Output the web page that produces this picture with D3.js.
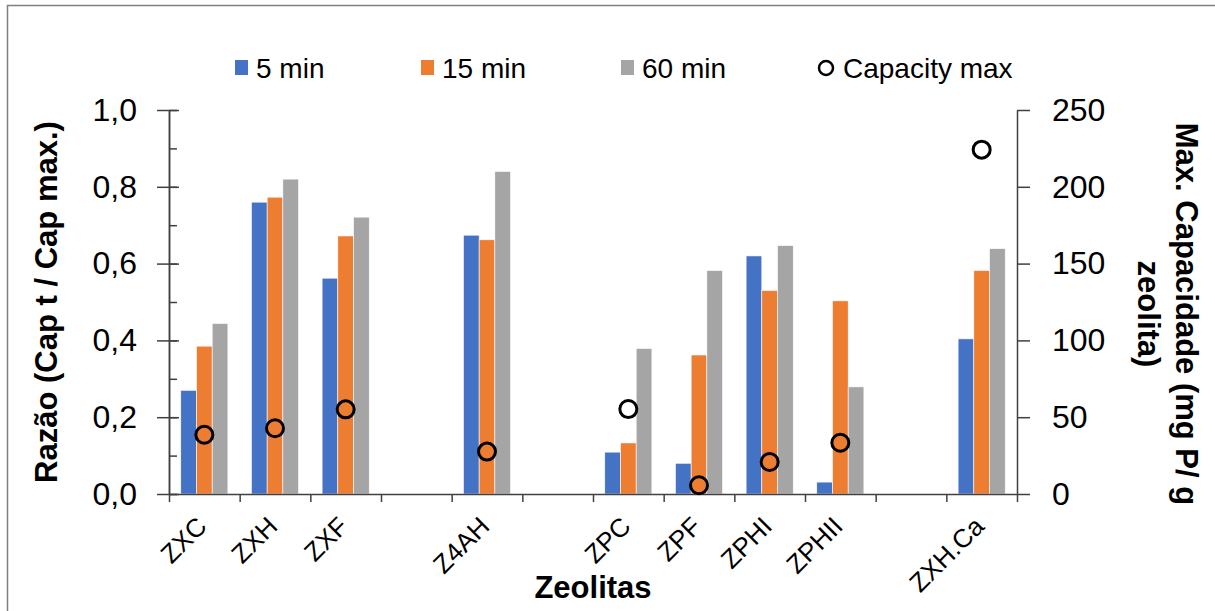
<!DOCTYPE html>
<style>
  body { margin: 0; background: #fff; }
  svg { font-family: "Liberation Sans", Arial, sans-serif; }
  .axis path, .axis line { stroke: #404040; stroke-width: 1.5; }
  .axis text { fill: #000; font-size: 32px; font-family: "Liberation Sans", Arial, sans-serif; }
  .title { font-weight: bold; font-size: 31px; fill: #000; }
  .cat { font-size: 26px; fill: #000; }
  .legend text { font-size: 28px; fill: #000; }
</style>
<body>
</body>
<script src="https://cdn.jsdelivr.net/npm/d3@7"></script>
<script>
  // categories, blank entries are the empty slots on the x axis
  const categories = ['ZXC', 'ZXH', 'ZXF', '', 'Z4AH', '', 'ZPC', 'ZPF', 'ZPHI', 'ZPHII', '', 'ZXH.Ca'];
  const min5  = [0.270, 0.760, 0.562, null, 0.674, null, 0.109, 0.080, 0.620, 0.031, null, 0.404];
  const min15 = [0.385, 0.773, 0.672, null, 0.662, null, 0.133, 0.362, 0.530, 0.503, null, 0.582];
  const min60 = [0.444, 0.820, 0.721, null, 0.840, null, 0.379, 0.582, 0.647, 0.279, null, 0.639];
  const capMax = [38.6, 42.8, 55.1, null, 27.6, null, 55.3, 5.7, 20.8, 33.4, null, 224.2];

  const seriesNames = ['5 min', '15 min', '60 min'];
  const seriesColors = ['#4472C4', '#ED7D31', '#A5A5A5'];
  const leftTicks = [0, 0.2, 0.4, 0.6, 0.8, 1.0];
  const leftMinor = [0, 0.1, 0.2, 0.3, 0.4, 0.5, 0.6, 0.7, 0.8, 0.9, 1.0];
  const rightTicks = [0, 50, 100, 150, 200, 250];

  const w = 1215, h = 611;
  const l = 169, r = 1017, t = 110, b = 494;

  const svg = d3.select('body').append('svg')
    .attr('width', w)
    .attr('height', h);

  // outer frame (only left and top visible in the crop)
  svg.append('path')
    .attr('d', `M7.5,${h} V5.5 H${w}`)
    .attr('fill', 'none')
    .attr('stroke', '#7f7f7f')
    .attr('stroke-width', 1.5);

  const idx = d3.range(categories.length);
  const x = d3.scaleBand().domain(idx).range([l, r]).padding(0);
  const barW = x.bandwidth() / 4.5;
  const x1 = d3.scaleBand().domain(d3.range(3))
    .range([barW * 0.75, x.bandwidth() - barW * 0.75]).padding(0);
  const y = d3.scaleLinear().domain([0, 1]).range([b, t]);
  const y2 = d3.scaleLinear().domain([0, 250]).range([b, t]);

  const series = [min5, min15, min60];

  // bars
  const bars = svg.append('g');
  series.forEach((vals, s) => {
    bars.append('g')
      .attr('fill', seriesColors[s])
      .selectAll('rect')
      .data(idx.filter(i => vals[i] != null))
      .join('rect')
      .attr('x', i => x(i) + x1(s))
      .attr('y', i => y(vals[i]))
      .attr('width', x1.bandwidth())
      .attr('height', i => b - y(vals[i]))
      .attr('stroke', '#fff')
      .attr('stroke-width', 0.6);
  });

  // x axis: ticks between categories
  const xb = d3.scaleLinear().domain([0, categories.length]).range([l, r]);
  svg.append('g').attr('class', 'axis')
    .attr('transform', `translate(0, ${b})`)
    .call(d3.axisBottom(xb).tickValues(d3.range(categories.length + 1))
      .tickFormat('').tickSize(8).tickSizeOuter(0));

  // left axis: minor inside, major crossing
  svg.append('g').attr('class', 'axis')
    .attr('transform', `translate(${l}, 0)`)
    .call(d3.axisLeft(y).tickValues(leftMinor).tickFormat('').tickSize(-8).tickSizeOuter(0));
  svg.append('g').attr('class', 'axis')
    .attr('transform', `translate(${l}, 0)`)
    .call(d3.axisLeft(y).tickValues(leftTicks).tickSize(12).tickPadding(20)
      .tickSizeOuter(0).tickFormat(d => d3.format('.1f')(d).replace('.', ',')))
    .call(g => g.selectAll('.tick line').attr('x2', -12).attr('x1', 10));

  // right axis
  svg.append('g').attr('class', 'axis')
    .attr('transform', `translate(${r}, 0)`)
    .call(d3.axisRight(y2).tickValues(rightTicks).tickSize(13).tickPadding(22).tickSizeOuter(0));

  svg.selectAll('.axis .domain').attr('stroke', '#404040');

  // capacity markers
  svg.append('g')
    .selectAll('circle')
    .data(idx.filter(i => capMax[i] != null))
    .join('circle')
    .attr('cx', i => x(i) + x.bandwidth() / 2)
    .attr('cy', i => y2(capMax[i]))
    .attr('r', 8.5)
    .attr('fill', 'none')
    .attr('stroke', '#000')
    .attr('stroke-width', 3);

  // category labels
  svg.append('g')
    .selectAll('text')
    .data(idx.filter(i => categories[i] !== ''))
    .join('text')
    .attr('class', 'cat')
    .attr('text-anchor', 'end')
    .attr('transform', i => `translate(${x(i) + x.bandwidth() / 2 + 4}, ${b + 34}) rotate(-45)`)
    .text(i => categories[i]);

  // titles
  svg.append('text').attr('class', 'title')
    .attr('x', (l + r) / 2).attr('y', 598)
    .attr('text-anchor', 'middle')
    .text('Zeolitas');

  svg.append('text').attr('class', 'title')
    .attr('transform', `translate(57, ${(t + b) / 2}) rotate(-90)`)
    .attr('text-anchor', 'middle')
    .text('Razão (Cap t / Cap max.)');

  const rt = svg.append('text').attr('class', 'title')
    .attr('transform', `translate(1176, 314) rotate(90)`)
    .attr('text-anchor', 'middle');
  rt.append('tspan').attr('x', 0).attr('dy', 0).text('Max. Capacidade (mg P/ g');
  rt.append('tspan').attr('x', 0).attr('dy', 38).text('zeolita)');

  // legend
  const legendX = [235, 421, 621, 818];
  const legend = svg.append('g').attr('class', 'legend');
  seriesNames.forEach((name, s) => {
    legend.append('rect')
      .attr('x', legendX[s]).attr('y', 60)
      .attr('width', 13).attr('height', 15)
      .attr('fill', seriesColors[s]);
    legend.append('text')
      .attr('x', legendX[s] + 21).attr('y', 78)
      .text(name);
  });
  legend.append('circle')
    .attr('cx', legendX[3] + 8).attr('cy', 68)
    .attr('r', 7).attr('fill', 'none')
    .attr('stroke', '#000').attr('stroke-width', 2.5);
  legend.append('text')
    .attr('x', legendX[3] + 25).attr('y', 78)
    .text('Capacity max');
</script>
